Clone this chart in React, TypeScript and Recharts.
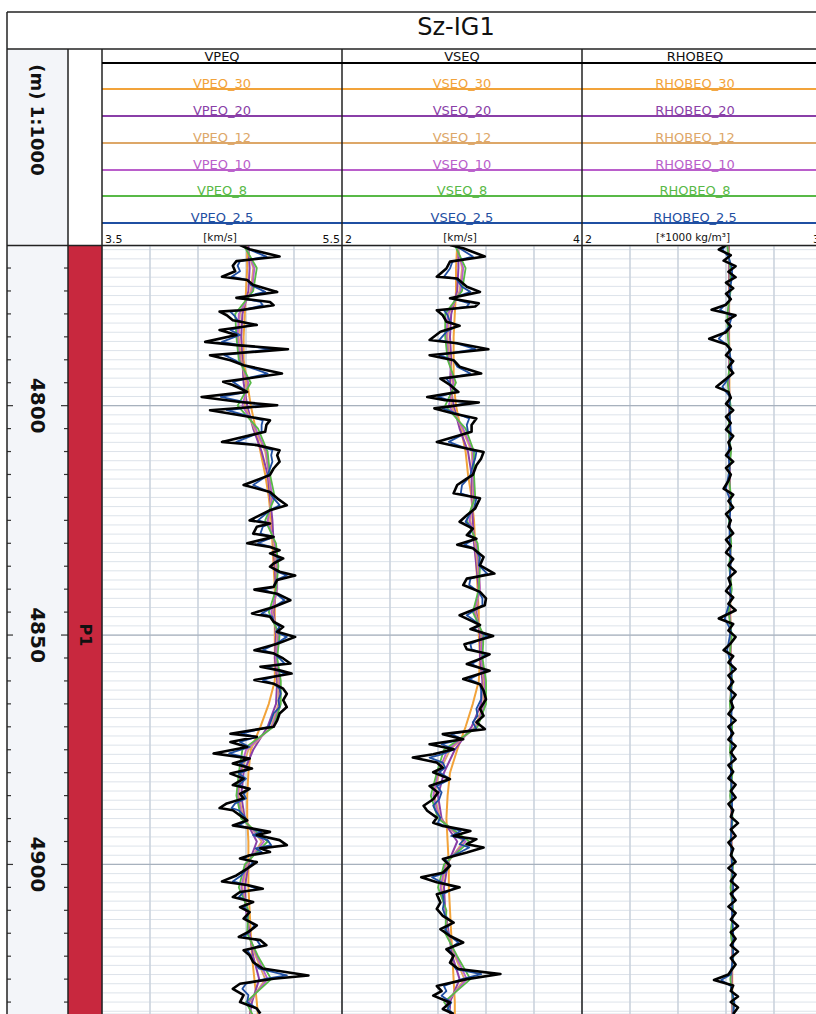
import React from 'react';
import {
  LineChart,
  Line,
  XAxis,
  YAxis,
  CartesianGrid,
  ReferenceLine,
  ReferenceArea
} from 'recharts';

type Pair = [number, number];

// depth window shown in the picture
const depthTop = 4765.2;
const depthBase = 4932.6;
const depthLabels = [4800, 4850, 4900];

// P1 runs past both edges of the window; its middle sits at 4850 m
const formations = [{ name: 'P1', top: 4735, base: 4965 }];

// depths of the smoothed curves (5 m steps)
const smoothDepths = [
  4765, 4770, 4775, 4780, 4785, 4790, 4795, 4800, 4805, 4810, 4815, 4820, 4825, 4830, 4835, 4840, 4845,
  4850, 4855, 4860, 4865, 4870, 4875, 4880, 4885, 4890, 4895, 4900, 4905, 4910, 4915, 4920, 4925, 4930, 4933
];

// ---------- VPEQ ----------
const vpRaw: Pair[] = [
  [4765.0, 4.65], [4765.9, 4.73], [4767.5, 4.98], [4768.5, 4.62], [4769.5, 4.59], [4770.7, 4.61],
  [4771.9, 4.50], [4772.6, 4.71], [4773.7, 4.76], [4775.2, 4.96], [4776.5, 4.62], [4777.4, 4.90],
  [4778.1, 4.93], [4779.2, 4.65], [4779.5, 4.48], [4780.3, 4.54], [4781.4, 4.59], [4782.4, 4.79],
  [4783.5, 4.48], [4784.6, 4.62], [4786.1, 4.36], [4786.8, 4.62], [4787.7, 5.05], [4789.0, 4.40],
  [4790.1, 4.57], [4791.2, 4.68], [4793.0, 5.00], [4794.8, 4.51], [4795.5, 4.59], [4797.0, 4.71],
  [4798.1, 4.33], [4799.2, 4.65], [4799.9, 4.96], [4801.0, 4.40], [4802.1, 4.65], [4803.2, 4.90],
  [4804.2, 4.87], [4805.7, 4.86], [4807.9, 4.50], [4808.6, 4.79], [4809.7, 4.98], [4810.8, 4.96],
  [4812.2, 4.98], [4813.7, 4.93], [4815.1, 4.90], [4815.9, 4.82], [4817.3, 4.68], [4818.8, 4.90],
  [4820.2, 4.96], [4821.7, 5.04], [4822.8, 4.90], [4825.0, 4.73], [4825.7, 4.90], [4826.4, 4.79],
  [4827.9, 4.76], [4828.6, 4.93], [4830.0, 4.71], [4830.8, 4.90], [4831.5, 4.98], [4832.2, 4.90],
  [4833.3, 5.01], [4834.4, 4.93], [4835.1, 4.90], [4836.2, 4.98], [4837.0, 5.11], [4838.0, 4.96],
  [4839.5, 4.93], [4840.1, 4.77], [4841.0, 4.96], [4842.4, 5.07], [4843.9, 4.93], [4845.3, 4.75],
  [4846.0, 4.90], [4847.1, 4.93], [4848.2, 5.01], [4849.3, 4.96], [4850.4, 5.11], [4851.9, 4.96],
  [4853.3, 4.77], [4854.0, 4.93], [4855.1, 5.01], [4856.2, 5.07], [4856.9, 4.82], [4857.7, 4.98],
  [4858.4, 5.08], [4859.8, 4.77], [4860.6, 4.93], [4861.7, 5.01], [4862.8, 5.04], [4864.2, 5.01],
  [4865.7, 5.04], [4867.1, 4.98], [4868.6, 4.96], [4870.0, 4.93], [4871.5, 4.57], [4872.2, 4.79],
  [4873.3, 4.57], [4874.4, 4.71], [4875.8, 4.43], [4876.9, 4.73], [4878.0, 4.59], [4879.1, 4.75],
  [4880.2, 4.57], [4881.3, 4.68], [4882.7, 4.59], [4883.5, 4.73], [4884.6, 4.65], [4885.6, 4.68],
  [4886.7, 4.54], [4887.7, 4.48], [4888.2, 4.59], [4889.3, 4.65], [4890.4, 4.71], [4891.5, 4.59],
  [4892.2, 4.76], [4892.9, 4.90], [4893.6, 4.79], [4894.7, 4.98], [4895.8, 5.04], [4896.5, 4.82],
  [4897.3, 4.90], [4898.0, 4.73], [4898.7, 4.65], [4899.5, 4.79], [4900.9, 4.71], [4902.4, 4.62],
  [4903.7, 4.50], [4904.5, 4.71], [4905.3, 4.84], [4906.0, 4.65], [4907.1, 4.59], [4908.2, 4.76],
  [4909.3, 4.65], [4910.4, 4.73], [4911.8, 4.68], [4913.3, 4.79], [4914.7, 4.72], [4915.8, 4.64],
  [4916.5, 4.82], [4917.6, 4.87], [4918.7, 4.68], [4919.8, 4.73], [4921.3, 4.76], [4922.7, 4.84],
  [4924.2, 5.22], [4924.9, 4.93], [4926.0, 4.65], [4927.1, 4.59], [4928.5, 4.68], [4930.0, 4.65],
  [4931.4, 4.79], [4932.5, 4.82]
];
// VPEQ_2.5, at the same depths as vpRaw
const vpBlue = [
  4.67, 4.72, 4.87, 4.65, 4.63, 4.65, 4.58, 4.71, 4.74, 4.86,
  4.65, 4.82, 4.84, 4.67, 4.57, 4.60, 4.63, 4.75, 4.57, 4.65,
  4.50, 4.65, 4.91, 4.52, 4.61, 4.68, 4.88, 4.59, 4.63, 4.71,
  4.49, 4.68, 4.87, 4.54, 4.70, 4.84, 4.83, 4.83, 4.62, 4.80,
  4.92, 4.91, 4.92, 4.90, 4.88, 4.84, 4.76, 4.89, 4.93, 4.98,
  4.90, 4.80, 4.90, 4.84, 4.82, 4.93, 4.80, 4.91, 4.96, 4.91,
  4.98, 4.93, 4.91, 4.96, 5.04, 4.95, 4.93, 4.84, 4.95, 5.02,
  4.93, 4.83, 4.92, 4.93, 4.98, 4.95, 5.04, 4.95, 4.84, 4.93,
  4.98, 5.02, 4.87, 4.96, 5.03, 4.84, 4.93, 4.98, 4.99, 4.97,
  4.98, 4.93, 4.91, 4.89, 4.66, 4.79, 4.65, 4.73, 4.56, 4.73,
  4.65, 4.74, 4.64, 4.70, 4.64, 4.73, 4.68, 4.70, 4.61, 4.58,
  4.64, 4.68, 4.71, 4.64, 4.74, 4.83, 4.76, 4.88, 4.91, 4.78,
  4.83, 4.73, 4.68, 4.76, 4.71, 4.66, 4.59, 4.71, 4.79, 4.68,
  4.64, 4.75, 4.68, 4.73, 4.70, 4.77, 4.73, 4.68, 4.79, 4.82,
  4.71, 4.74, 4.76, 4.81, 5.04, 4.87, 4.70, 4.67, 4.72, 4.71,
  4.79, 4.81
];
const vp8 = [4.68, 4.79, 4.76, 4.61, 4.62, 4.64, 4.74, 4.63, 4.80, 4.88, 4.90, 4.94, 4.86, 4.95, 4.97, 4.95, 4.89, 4.98, 4.96, 4.99, 4.99, 4.93, 4.67, 4.64, 4.62, 4.66, 4.88, 4.69, 4.64, 4.72, 4.71, 4.80, 4.91, 4.70, 4.76];
const vp10 = [4.69, 4.77, 4.75, 4.64, 4.63, 4.65, 4.72, 4.67, 4.78, 4.87, 4.89, 4.92, 4.88, 4.94, 4.96, 4.96, 4.91, 4.97, 4.95, 4.98, 4.98, 4.92, 4.70, 4.65, 4.63, 4.67, 4.85, 4.70, 4.66, 4.71, 4.72, 4.79, 4.88, 4.72, 4.75];
const vp12 = [4.70, 4.76, 4.74, 4.65, 4.64, 4.66, 4.70, 4.69, 4.77, 4.86, 4.89, 4.91, 4.89, 4.93, 4.95, 4.96, 4.92, 4.96, 4.95, 4.97, 4.97, 4.91, 4.72, 4.66, 4.64, 4.68, 4.83, 4.71, 4.67, 4.71, 4.72, 4.78, 4.86, 4.73, 4.74];
const vp20 = [4.72, 4.73, 4.72, 4.67, 4.66, 4.67, 4.68, 4.71, 4.76, 4.83, 4.88, 4.90, 4.92, 4.93, 4.94, 4.95, 4.93, 4.95, 4.94, 4.96, 4.95, 4.88, 4.76, 4.68, 4.66, 4.69, 4.79, 4.72, 4.69, 4.70, 4.73, 4.76, 4.81, 4.75, 4.73];
const vp30 = [4.71, 4.71, 4.70, 4.69, 4.68, 4.68, 4.71, 4.74, 4.78, 4.82, 4.86, 4.89, 4.91, 4.92, 4.93, 4.94, 4.94, 4.94, 4.94, 4.94, 4.89, 4.82, 4.74, 4.72, 4.71, 4.71, 4.72, 4.72, 4.72, 4.73, 4.74, 4.75, 4.77, 4.79, 4.80];

// ---------- VSEQ ----------
const vsRaw: Pair[] = [
  [4765.0, 2.90], [4765.7, 3.01], [4767.5, 3.19], [4768.6, 2.90], [4770.1, 2.87], [4771.9, 2.79],
  [4772.3, 2.96], [4774.1, 3.04], [4775.2, 3.15], [4776.6, 2.90], [4777.7, 3.14], [4778.4, 3.11],
  [4779.2, 2.79], [4780.3, 2.84], [4781.7, 2.87], [4782.6, 2.98], [4783.9, 2.82], [4785.7, 2.73],
  [4786.4, 2.96], [4787.7, 3.22], [4789.0, 2.73], [4790.1, 2.93], [4791.5, 2.98], [4793.0, 3.16],
  [4794.1, 2.82], [4795.5, 2.90], [4797.0, 2.97], [4798.1, 2.71], [4798.8, 2.86], [4799.3, 3.14],
  [4800.6, 2.77], [4801.7, 2.93], [4802.8, 3.12], [4804.2, 3.08], [4805.7, 3.08], [4807.9, 2.79],
  [4809.0, 2.98], [4810.1, 3.18], [4811.5, 3.16], [4813.0, 3.12], [4815.1, 3.09], [4815.9, 3.04],
  [4817.3, 2.96], [4819.1, 2.93], [4820.2, 3.15], [4822.4, 3.11], [4823.9, 3.04], [4825.3, 2.98],
  [4826.8, 3.09], [4828.2, 3.04], [4829.0, 3.12], [4830.3, 2.96], [4831.1, 3.09], [4833.0, 3.18],
  [4834.8, 3.15], [4836.6, 3.27], [4837.7, 3.04], [4839.1, 3.01], [4840.6, 3.15], [4842.0, 3.20],
  [4843.5, 3.19], [4845.7, 2.98], [4846.8, 3.07], [4847.8, 3.15], [4848.7, 3.07], [4850.2, 3.26],
  [4852.0, 3.02], [4853.1, 3.04], [4854.2, 3.23], [4855.2, 3.15], [4856.3, 3.04], [4857.8, 3.23],
  [4859.6, 3.01], [4860.7, 3.15], [4862.1, 3.18], [4864.0, 3.20], [4866.1, 3.15], [4867.6, 3.18],
  [4869.0, 3.12], [4870.5, 3.19], [4871.6, 2.84], [4872.7, 3.01], [4873.8, 2.73], [4874.9, 2.93],
  [4876.0, 2.76], [4876.7, 2.59], [4877.8, 2.79], [4878.9, 2.84], [4879.9, 2.76], [4881.4, 2.90],
  [4882.9, 2.73], [4884.3, 2.80], [4885.8, 2.76], [4887.2, 2.68], [4888.3, 2.71], [4889.8, 2.79],
  [4890.9, 2.76], [4891.6, 2.84], [4892.7, 3.07], [4893.8, 2.93], [4894.5, 3.12], [4895.6, 3.04],
  [4896.3, 3.18], [4897.4, 3.04], [4898.8, 2.84], [4900.3, 2.90], [4901.8, 2.84], [4902.8, 2.66],
  [4903.9, 2.79], [4905.0, 2.98], [4906.5, 2.79], [4908.3, 2.82], [4909.7, 2.79], [4911.2, 2.84],
  [4912.7, 2.93], [4914.1, 2.82], [4915.6, 2.90], [4917.0, 3.01], [4918.5, 2.87], [4919.9, 2.93],
  [4921.4, 2.90], [4922.8, 2.97], [4923.9, 3.32], [4925.0, 3.04], [4926.5, 2.79], [4927.6, 2.83],
  [4928.6, 2.76], [4930.1, 2.90], [4931.5, 2.84], [4932.6, 2.93]
];
const vsBlue = [
  2.92, 2.98, 3.09, 2.92, 2.90, 2.85, 2.95, 3.00, 3.07, 2.92,
  3.06, 3.04, 2.85, 2.88, 2.90, 2.96, 2.87, 2.81, 2.95, 3.11,
  2.81, 2.93, 2.96, 3.07, 2.87, 2.91, 2.95, 2.80, 2.89, 3.06,
  2.84, 2.95, 3.06, 3.04, 3.05, 2.89, 3.00, 3.12, 3.11, 3.09,
  3.07, 3.05, 3.00, 2.99, 3.12, 3.10, 3.06, 3.03, 3.09, 3.06,
  3.11, 3.02, 3.10, 3.15, 3.14, 3.21, 3.07, 3.06, 3.14, 3.17,
  3.17, 3.04, 3.10, 3.15,
  3.10, 3.21, 3.07, 3.08, 3.20, 3.15, 3.08, 3.20, 3.06, 3.15,
  3.16, 3.16, 3.12, 3.13, 3.09, 3.12, 2.91, 3.00, 2.83, 2.94,
  2.83, 2.73, 2.84, 2.86, 2.81, 2.90, 2.79, 2.83, 2.81, 2.76,
  2.78, 2.82, 2.80, 2.85, 2.99, 2.91, 3.02, 2.98, 3.06, 2.98,
  2.86, 2.90, 2.86, 2.75, 2.83, 2.95, 2.84, 2.85, 2.84, 2.86,
  2.92, 2.86, 2.90, 2.97, 2.89, 2.93, 2.91, 2.95, 3.16, 3.00,
  2.85, 2.87, 2.83, 2.91, 2.88, 2.93
];
const vs8 = [2.94, 3.03, 3.00, 2.86, 2.86, 2.88, 2.95, 2.86, 3.03, 3.10, 3.10, 3.11, 3.04, 3.13, 3.15, 3.14, 3.09, 3.18, 3.17, 3.20, 3.20, 3.13, 2.85, 2.79, 2.74, 2.80, 3.06, 2.85, 2.80, 2.87, 2.86, 2.96, 3.07, 2.85, 2.93];
const vs10 = [2.95, 3.01, 2.99, 2.88, 2.87, 2.89, 2.93, 2.89, 3.01, 3.09, 3.09, 3.10, 3.06, 3.12, 3.14, 3.15, 3.10, 3.17, 3.16, 3.19, 3.19, 3.12, 2.88, 2.80, 2.76, 2.81, 3.03, 2.86, 2.82, 2.86, 2.87, 2.95, 3.04, 2.87, 2.92];
const vs12 = [2.96, 3.00, 2.98, 2.89, 2.88, 2.90, 2.92, 2.91, 3.00, 3.08, 3.09, 3.09, 3.07, 3.11, 3.13, 3.15, 3.11, 3.16, 3.16, 3.18, 3.18, 3.11, 2.90, 2.81, 2.77, 2.82, 3.01, 2.87, 2.83, 2.86, 2.88, 2.94, 3.02, 2.88, 2.91];
const vs20 = [2.97, 2.97, 2.96, 2.91, 2.90, 2.91, 2.90, 2.93, 2.98, 3.05, 3.08, 3.08, 3.09, 3.10, 3.12, 3.14, 3.12, 3.15, 3.15, 3.17, 3.16, 3.08, 2.94, 2.85, 2.80, 2.83, 2.96, 2.88, 2.85, 2.86, 2.89, 2.92, 2.98, 2.90, 2.90];
const vs30 = [2.96, 2.95, 2.95, 2.94, 2.93, 2.93, 2.93, 2.95, 2.99, 3.03, 3.05, 3.08, 3.10, 3.11, 3.12, 3.13, 3.14, 3.14, 3.15, 3.14, 3.09, 3.03, 2.96, 2.90, 2.88, 2.87, 2.88, 2.89, 2.89, 2.90, 2.91, 2.92, 2.93, 2.94, 2.94];

// ---------- RHOBEQ ----------
const rhobRaw: Pair[] = [
  [4765.0, 2.60], [4766.0, 2.57], [4767.2, 2.62], [4768.4, 2.59], [4769.6, 2.64], [4770.8, 2.61],
  [4772.0, 2.64], [4773.2, 2.60], [4774.4, 2.63], [4775.6, 2.60], [4776.8, 2.62], [4778.0, 2.60],
  [4779.1, 2.54], [4780.3, 2.64], [4781.5, 2.60], [4782.7, 2.62], [4784.0, 2.60], [4785.4, 2.53],
  [4786.6, 2.60], [4787.8, 2.62], [4789.0, 2.60], [4790.3, 2.63], [4791.6, 2.61], [4792.9, 2.63],
  [4794.2, 2.60], [4795.9, 2.56], [4797.0, 2.61], [4798.3, 2.62], [4799.6, 2.60], [4801.0, 2.63],
  [4802.4, 2.60], [4803.8, 2.62], [4805.2, 2.60], [4806.6, 2.63], [4808.0, 2.61], [4809.4, 2.62],
  [4810.8, 2.60], [4812.2, 2.63], [4813.6, 2.60], [4815.0, 2.62], [4816.4, 2.61], [4818.1, 2.59],
  [4819.4, 2.63], [4820.8, 2.61], [4822.2, 2.63], [4823.6, 2.60], [4825.0, 2.62], [4826.4, 2.61],
  [4827.8, 2.63], [4829.2, 2.60], [4830.6, 2.62], [4832.0, 2.60], [4833.4, 2.63], [4834.8, 2.61],
  [4836.2, 2.64], [4837.6, 2.61], [4839.0, 2.62], [4840.4, 2.60], [4841.8, 2.63], [4843.2, 2.61],
  [4844.6, 2.64], [4846.4, 2.57], [4847.6, 2.63], [4849.0, 2.61], [4850.4, 2.64], [4851.8, 2.62],
  [4853.3, 2.59], [4854.6, 2.63], [4856.0, 2.61], [4857.4, 2.64], [4858.8, 2.61], [4860.2, 2.63],
  [4861.6, 2.61], [4863.0, 2.64], [4864.4, 2.62], [4865.8, 2.63], [4867.2, 2.61], [4868.6, 2.64],
  [4870.0, 2.61], [4871.4, 2.63], [4872.8, 2.61], [4874.2, 2.64], [4875.6, 2.62], [4877.0, 2.64],
  [4878.4, 2.61], [4879.8, 2.63], [4881.2, 2.61], [4882.6, 2.64], [4884.0, 2.62], [4885.4, 2.64],
  [4886.8, 2.61], [4888.2, 2.63], [4889.6, 2.62], [4891.0, 2.65], [4892.4, 2.62], [4893.8, 2.64],
  [4895.2, 2.61], [4896.6, 2.63], [4898.0, 2.62], [4899.4, 2.64], [4900.8, 2.61], [4902.2, 2.64],
  [4903.6, 2.62], [4905.0, 2.65], [4906.4, 2.62], [4907.8, 2.64], [4909.2, 2.61], [4910.6, 2.64],
  [4912.0, 2.62], [4913.4, 2.65], [4914.8, 2.62], [4916.2, 2.64], [4917.6, 2.62], [4919.0, 2.65],
  [4920.4, 2.62], [4921.8, 2.64], [4923.2, 2.62], [4924.0, 2.61], [4925.2, 2.55], [4926.4, 2.63],
  [4927.6, 2.62], [4928.8, 2.65], [4930.0, 2.62], [4931.2, 2.65], [4932.6, 2.63]
];
const rhobBlue: Pair[] = [
  [4765, 2.60], [4766, 2.585], [4767.5, 2.61], [4770, 2.625], [4772, 2.625], [4775, 2.615], [4777, 2.615],
  [4779.1, 2.575], [4780.5, 2.625], [4783, 2.61], [4785.4, 2.57], [4787, 2.61], [4790, 2.62], [4793, 2.625],
  [4795.9, 2.585], [4798, 2.615], [4802, 2.615], [4806, 2.62], [4810, 2.61], [4814, 2.615], [4818.1, 2.60],
  [4821, 2.62], [4825, 2.615], [4830, 2.615], [4834, 2.62], [4838, 2.615], [4842, 2.62], [4846.4, 2.595],
  [4849, 2.62], [4853.3, 2.605], [4857, 2.625], [4861, 2.62], [4865, 2.625], [4870, 2.62], [4875, 2.625],
  [4880, 2.62], [4885, 2.625], [4890, 2.625], [4895, 2.62], [4900, 2.625], [4905, 2.63], [4910, 2.625],
  [4915, 2.63], [4920, 2.63], [4924, 2.62], [4925.2, 2.58], [4926.5, 2.62], [4930, 2.635], [4932.6, 2.63]
];
const rhob8 = [2.605, 2.618, 2.619, 2.606, 2.608, 2.618, 2.607, 2.619, 2.61, 2.621, 2.611, 2.621, 2.612, 2.622, 2.613, 2.624, 2.611, 2.624, 2.614, 2.626, 2.616, 2.626, 2.616, 2.627, 2.617, 2.628, 2.618, 2.63, 2.619, 2.63, 2.62, 2.631, 2.618, 2.63, 2.632];
const rhob10 = [2.607, 2.616, 2.617, 2.608, 2.61, 2.616, 2.609, 2.617, 2.612, 2.619, 2.613, 2.619, 2.614, 2.62, 2.615, 2.622, 2.613, 2.622, 2.616, 2.624, 2.618, 2.624, 2.618, 2.625, 2.619, 2.626, 2.62, 2.628, 2.621, 2.628, 2.622, 2.629, 2.62, 2.628, 2.63];
const rhob12 = [2.608, 2.615, 2.616, 2.609, 2.611, 2.615, 2.61, 2.616, 2.613, 2.618, 2.614, 2.618, 2.615, 2.619, 2.616, 2.621, 2.614, 2.621, 2.617, 2.623, 2.619, 2.623, 2.619, 2.624, 2.62, 2.625, 2.621, 2.627, 2.622, 2.627, 2.623, 2.628, 2.621, 2.627, 2.629];
const rhob20 = [2.61, 2.613, 2.615, 2.611, 2.612, 2.614, 2.612, 2.615, 2.614, 2.616, 2.615, 2.617, 2.616, 2.618, 2.617, 2.619, 2.616, 2.62, 2.618, 2.621, 2.62, 2.622, 2.62, 2.623, 2.621, 2.624, 2.622, 2.625, 2.623, 2.626, 2.624, 2.627, 2.623, 2.626, 2.628];
const rhob30 = [2.612, 2.612, 2.613, 2.613, 2.613, 2.614, 2.614, 2.614, 2.615, 2.615, 2.615, 2.616, 2.616, 2.617, 2.617, 2.618, 2.618, 2.619, 2.619, 2.62, 2.62, 2.621, 2.621, 2.622, 2.622, 2.623, 2.623, 2.624, 2.624, 2.625, 2.625, 2.626, 2.626, 2.627, 2.627];

const COLORS = {
  c30: '#F2A33A',
  c20: '#8A3FA8',
  c12: '#DDA768',
  c10: '#BA5FCB',
  c8: '#58B947',
  c25: '#1F4FA2',
  raw: '#000000'
};

const FONT = '"DejaVu Sans", Verdana, sans-serif';
const PLOT_TOP = 246;
const PLOT_H = 768;
const TRACK_W = 240;

const minorDepthTicks = Array.from({ length: 84 }, (_, i) => 4766 + 2 * i);
const depthMarks = Array.from({ length: 33 }, (_, i) => 4770 + 5 * i);

const zip = (raw: Pair[], vals: number[]): Pair[] => raw.map(([d], i) => [d, vals[i]]);

const tracks = [
  {
    title: 'VPEQ', unit: '[km/s]', min: 3.5, max: 5.5, minLabel: '3.5', maxLabel: '5.5',
    left: 102, labelX: 222, gridX: [3.5, 3.9, 4.3, 4.7, 5.1, 5.5],
    raw: vpRaw, blue: zip(vpRaw, vpBlue), s8: vp8, s10: vp10, s12: vp12, s20: vp20, s30: vp30
  },
  {
    title: 'VSEQ', unit: '[km/s]', min: 2, max: 4, minLabel: '2', maxLabel: '4',
    left: 342, labelX: 462, gridX: [2, 2.4, 2.8, 3.2, 3.6, 4],
    raw: vsRaw, blue: zip(vsRaw, vsBlue), s8: vs8, s10: vs10, s12: vs12, s20: vs20, s30: vs30
  },
  {
    title: 'RHOBEQ', unit: '[*1000 kg/m³]', min: 2, max: 3, minLabel: '2', maxLabel: '3',
    left: 582, labelX: 695, gridX: [2, 2.2, 2.4, 2.6, 2.8, 3],
    raw: rhobRaw, blue: rhobBlue, s8: rhob8, s10: rhob10, s12: rhob12, s20: rhob20, s30: rhob30
  }
];

const legendRows = [
  { suffix: '_30', color: COLORS.c30, y: 89 },
  { suffix: '_20', color: COLORS.c20, y: 116 },
  { suffix: '_12', color: COLORS.c12, y: 143 },
  { suffix: '_10', color: COLORS.c10, y: 170 },
  { suffix: '_8', color: COLORS.c8, y: 196 },
  { suffix: '_2.5', color: COLORS.c25, y: 223 }
];

const pts = (pairs: Pair[]) => pairs.map(([d, v]) => ({ d, v }));
const smooth = (vals: number[]) => smoothDepths.map((d, i) => ({ d, v: vals[i] }));

function Track({ t }: { t: (typeof tracks)[number] }) {
  const series = [
    { data: smooth(t.s30), color: COLORS.c30, w: 2 },
    { data: smooth(t.s20), color: COLORS.c20, w: 2 },
    { data: smooth(t.s12), color: COLORS.c12, w: 1.8 },
    { data: smooth(t.s10), color: COLORS.c10, w: 1.8 },
    { data: smooth(t.s8), color: COLORS.c8, w: 1.8 },
    { data: pts(t.blue), color: COLORS.c25, w: 1.8 },
    { data: pts(t.raw), color: COLORS.raw, w: 2.6 }
  ];
  return (
    <div style={{ position: 'absolute', left: t.left, top: PLOT_TOP }}>
      <LineChart width={TRACK_W} height={PLOT_H} layout="vertical" margin={{ top: 0, right: 0, bottom: 0, left: 0 }}>
        <CartesianGrid vertical={false} stroke="#dde3ea" strokeWidth={1} />
        <CartesianGrid horizontal={false} stroke="#cbd3dd" strokeWidth={1.6} />
        <XAxis type="number" dataKey="v" domain={[t.min, t.max]} ticks={t.gridX} interval={0} hide allowDataOverflow />
        <YAxis
          type="number"
          dataKey="d"
          domain={[depthTop, depthBase]}
          ticks={minorDepthTicks}
          interval={0}
          hide
          allowDataOverflow
        />
        {depthLabels.map((d) => (
          <ReferenceLine key={d} y={d} stroke="#a7b1bd" strokeWidth={1.2} />
        ))}
        {series.map((s, i) => (
          <Line
            key={i}
            data={s.data}
            dataKey="v"
            type="linear"
            stroke={s.color}
            strokeWidth={s.w}
            strokeLinejoin="round"
            dot={false}
            activeDot={false}
            isAnimationActive={false}
          />
        ))}
      </LineChart>
    </div>
  );
}

function DepthTick(props: any) {
  const { y, payload } = props;
  const v = payload.value;
  const major = v % 50 === 0;
  return (
    <g>
      <line x1={0} x2={major ? 6 : 4} y1={y} y2={y} stroke="#333" strokeWidth={1.2} />
      <line x1={major ? 54 : 57} x2={61} y1={y} y2={y} stroke="#333" strokeWidth={1.2} />
      {major && (
        <text
          x={31}
          y={y}
          transform={`rotate(90 31 ${y})`}
          textAnchor="middle"
          dominantBaseline="central"
          fontFamily={FONT}
          fontWeight={700}
          fontSize={20}
          fill="#111"
        >
          {v}
        </text>
      )}
    </g>
  );
}

function FormationLabel(props: any) {
  const { viewBox, name } = props;
  const cx = viewBox.x + viewBox.width / 2;
  const cy = viewBox.y;
  return (
    <text
      x={cx}
      y={cy}
      transform={`rotate(90 ${cx} ${cy})`}
      textAnchor="middle"
      dominantBaseline="central"
      fontFamily={FONT}
      fontWeight={700}
      fontSize={16}
      fill="#111"
    >
      {name}
    </text>
  );
}

// formation boundaries drawn as a two-point line so the chart has data for both axes
const formationData = formations.map((f) => ({ d: (f.top + f.base) / 2, x: 0.5 }));

function DepthColumn() {
  return (
    <div style={{ position: 'absolute', left: 7, top: PLOT_TOP }}>
      <LineChart
        width={95}
        height={PLOT_H}
        layout="vertical"
        data={formationData}
        margin={{ top: 0, right: 0, bottom: 0, left: 0 }}
      >
        <XAxis type="number" dataKey="x" domain={[0, 1]} hide allowDataOverflow />
        <YAxis
          type="number"
          dataKey="d"
          domain={[depthTop, depthBase]}
          ticks={depthMarks}
          interval={0}
          width={61}
          axisLine={false}
          tickLine={false}
          tick={(p: any) => <DepthTick {...p} />}
          allowDataOverflow
        />
        {formations.map((f) => (
          <ReferenceArea
            key={f.name}
            x1={0}
            x2={1}
            y1={Math.max(f.top, depthTop)}
            y2={Math.min(f.base, depthBase)}
            fill="#C8283E"
            fillOpacity={1}
            stroke="none"
            ifOverflow="visible"
          />
        ))}
        {formations.map((f) => (
          <ReferenceLine
            key={f.name + '-label'}
            y={(f.top + f.base) / 2}
            stroke="none"
            strokeOpacity={0}
            ifOverflow="visible"
            label={(p: any) => <FormationLabel {...p} name={f.name} />}
          />
        ))}
      </LineChart>
    </div>
  );
}

export default function App() {
  return (
    <div style={{ position: 'relative', width: 816, height: 1014, overflow: 'hidden', background: '#fff' }}>
      <style>{'body{margin:0}'}</style>
      <svg width={816} height={1014} style={{ position: 'absolute', left: 0, top: 0 }}>
        <rect x={7} y={49} width={61} height={965} fill="#f3f5f9" />
        <text x={456} y={35} textAnchor="middle" fontFamily={FONT} fontSize={24} fill="#111">
          Sz-IG1
        </text>
        <text
          x={37.5}
          y={120}
          transform="rotate(90 37.5 120)"
          textAnchor="middle"
          dominantBaseline="central"
          fontFamily={FONT}
          fontWeight={700}
          fontSize={18}
          fill="#111"
        >
          (m) 1:1000
        </text>
        {tracks.map((t) => (
          <g key={t.title}>
            <text x={t.labelX} y={61} textAnchor="middle" fontFamily={FONT} fontSize={13} fill="#111">
              {t.title}
            </text>
            {legendRows.map((r) => (
              <g key={r.suffix}>
                <text x={t.labelX} y={r.y - 1} textAnchor="middle" fontFamily={FONT} fontSize={13} fill={r.color}>
                  {t.title + r.suffix}
                </text>
                <line x1={t.left} x2={t.left + TRACK_W} y1={r.y} y2={r.y} stroke={r.color} strokeWidth={2} />
              </g>
            ))}
            <text x={t.left + 3} y={243} fontFamily={FONT} fontSize={11} fill="#111">
              {t.minLabel}
            </text>
            <text x={t.labelX - 2} y={241} textAnchor="middle" fontFamily={FONT} fontSize={10.5} fill="#111">
              {t.unit}
            </text>
            <text x={t.left + TRACK_W - 2} y={243} textAnchor="end" fontFamily={FONT} fontSize={11} fill="#111">
              {t.maxLabel}
            </text>
          </g>
        ))}
      </svg>

      <DepthColumn />
      {tracks.map((t) => (
        <Track key={t.title} t={t} />
      ))}

      <svg width={816} height={1014} style={{ position: 'absolute', left: 0, top: 0, pointerEvents: 'none' }}>
        <g stroke="#222" strokeWidth={1.5} fill="none">
          <line x1={7} x2={816} y1={12} y2={12} />
          <line x1={7} x2={816} y1={49} y2={49} />
          <line x1={7} x2={816} y1={245.5} y2={245.5} />
          <line x1={7} x2={7} y1={12} y2={1014} />
          <line x1={68} x2={68} y1={49} y2={1014} />
          <line x1={102} x2={102} y1={49} y2={1014} />
          <line x1={342} x2={342} y1={49} y2={1014} />
          <line x1={582} x2={582} y1={49} y2={1014} />
        </g>
        <line x1={102} x2={816} y1={63} y2={63} stroke="#000" strokeWidth={2} />
      </svg>
    </div>
  );
}
